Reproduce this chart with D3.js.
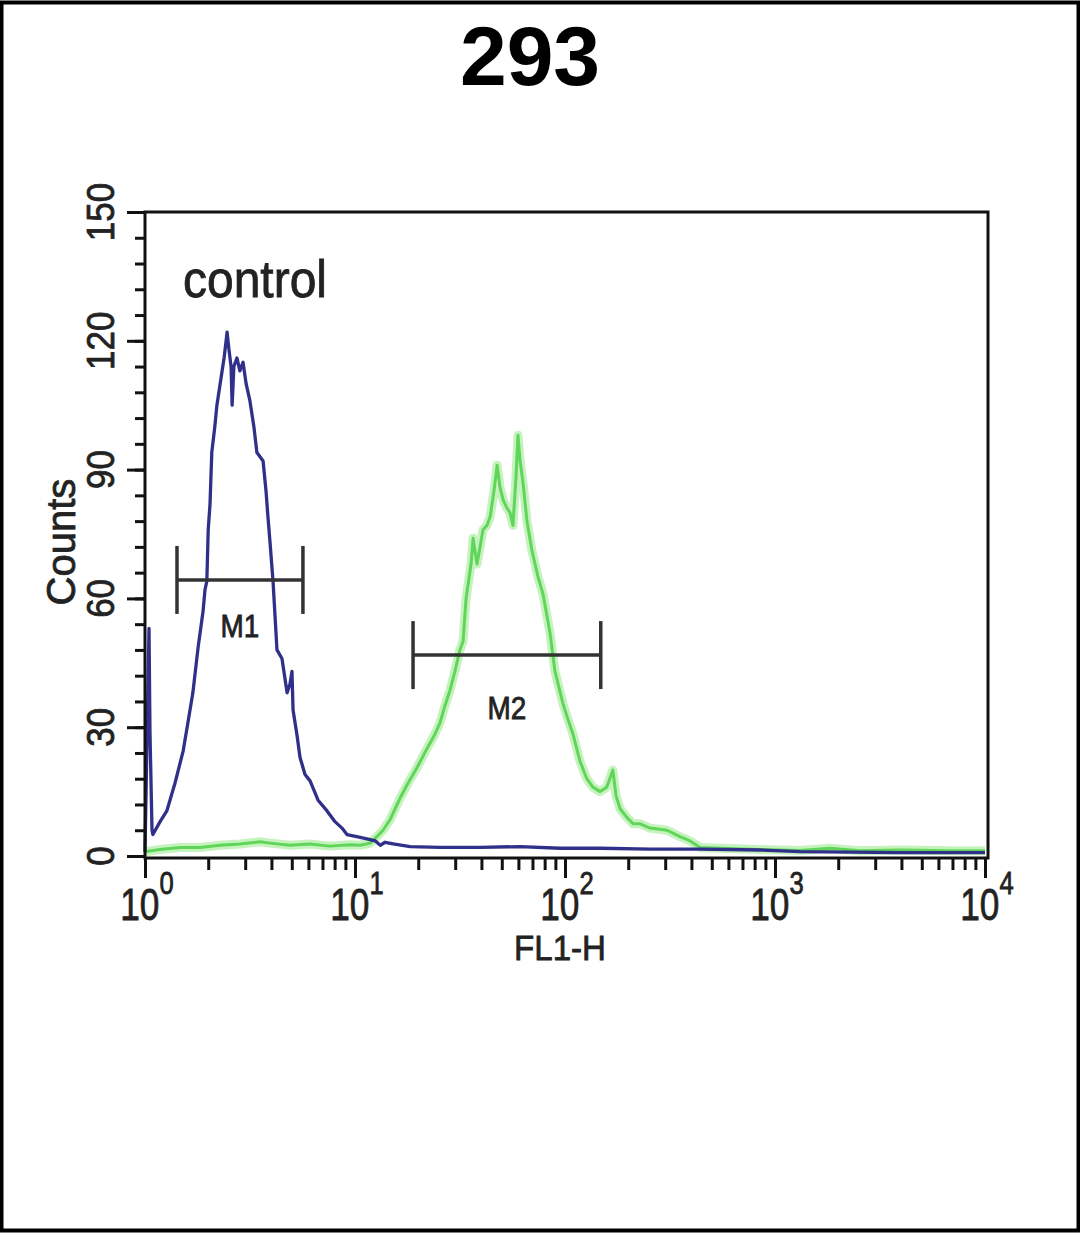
<!DOCTYPE html>
<meta charset="utf-8">
<script src="https://d3js.org/d3.v7.min.js"></script>
<style>
body { margin:0; background:#fff; }
.axis path { stroke:none; }
.axis line { stroke:#111; stroke-width:3px; }
.lab { font-family:"Liberation Sans",Arial,sans-serif; fill:#222; stroke:#222; stroke-width:0.8px; }
</style>
<body>
<script>

// control histogram (blue) : FL1-H value, counts
var blueX = [1.0, 1.045, 1.056, 1.08, 1.09, 1.18, 1.27, 1.39, 1.52, 1.60, 1.69, 1.79, 1.89, 1.93, 1.97, 2.00, 2.04, 2.08, 2.15, 2.20, 2.28, 2.38, 2.46, 2.51, 2.57, 2.60, 2.65, 2.74, 2.83, 2.93, 3.03, 3.16, 3.30, 3.41, 3.53, 3.65, 3.77, 3.85, 3.94, 4.07, 4.16, 4.25, 4.49, 4.75, 4.90, 5.01, 5.07, 5.30, 5.47, 5.78, 6.11, 6.67, 7.36, 8.03, 8.67, 9.16, 10.2, 11.4, 12.5, 13.2, 13.9, 15.2, 18.3, 25.4, 39.4, 61.1, 94.7, 147, 254, 440, 848, 1315, 3938, 10000]
var blueCount = [1, 53, 29, 6, 5, 8, 10.5, 17, 24.5, 31, 38, 48.6, 57, 62, 64, 76, 82, 94, 100, 105, 110, 116, 122, 118, 114, 105, 114, 116, 113, 115, 110, 106, 100, 94, 93, 92, 85, 79, 73, 64, 56, 48, 46, 38, 40, 43, 34, 28, 23, 19, 17.5, 13, 10.5, 8, 6.5, 5, 4.5, 4, 3.5, 2.5, 3.2, 2.8, 2.2, 2, 2, 2.2, 1.8, 1.8, 1.6, 1.6, 1.4, 1, 0.8, 0.8]

// stained sample histogram (green)
var greenX = [1.0, 1.18, 1.47, 1.83, 2.28, 2.83, 3.53, 3.94, 4.90, 6.11, 7.60, 9.47, 10.6, 11.8, 12.7, 13.6, 14.7, 16.4, 17.9, 19.7, 22.0, 23.8, 25.4, 26.8, 28.3, 29.9, 31.6, 32.7, 33.8, 34.5, 35.7, 36.5, 38.1, 39.4, 40.7, 42.5, 44.0, 45.9, 47.5, 49.0, 50.7, 52.9, 54.7, 56.5, 58.4, 59.7, 61.1, 63.1, 65.9, 69.7, 74.4, 78.6, 84.8, 89.6, 97.8, 103, 109, 118, 127, 136, 147, 158, 169, 175, 183, 197, 211, 228, 254, 306, 353, 394, 440, 547, 848, 1315, 1828, 2540, 3938, 6813, 10000]
var greenCount = [1, 1.5, 2, 2, 2.5, 2.8, 3.3, 3, 2.5, 2.8, 2.3, 2.6, 2.5, 3, 4.5, 6, 8.5, 13.5, 17, 20.5, 25, 28, 31, 35, 38.5, 43, 48, 50, 60, 63, 68, 74, 68, 72, 76, 77, 79, 85, 91, 86, 83, 81, 80, 77, 88, 98, 92, 87, 78, 71, 65, 61, 52, 43, 35.5, 32, 28.5, 22, 18, 16, 15, 16, 20, 14, 11, 9, 7.5, 7.5, 6.5, 6, 4.5, 3.5, 2, 1.8, 1.5, 1.3, 1.8, 1.2, 1.4, 1.2, 1.2]

var yMajor = [0, 30, 60, 90, 120, 150]
var yMinor = d3.range(0, 151, 6)
var xMajor = [1, 10, 100, 1000, 10000]
var xExp = ["0", "1", "2", "3", "4"]

var markerNames = ["M1", "M2"]
var markerLo = [1.42, 18.9]
var markerHi = [5.65, 148]
var markerLevel = [64.3, 46.8]

var W = 1080, H = 1233

var svg = d3.select("body").append("svg")
  .attr("width", W)
  .attr("height", H)

// outer frame of the picture
svg.append("rect")
  .attr("x", 1.5).attr("y", 2.5)
  .attr("width", W - 3).attr("height", H - 5)
  .attr("fill", "#fff")
  .attr("stroke", "#000")
  .attr("stroke-width", 4)

svg.append("text")
  .attr("x", 530).attr("y", 85)
  .attr("text-anchor", "middle")
  .style("font", "bold 84px 'Liberation Sans', Arial, sans-serif")
  .text("293")

var x = d3.scaleLog().domain([1, 10000]).range([145, 985])
var y = d3.scaleLinear().domain([0, 150]).range([856, 212])

// minor x ticks
var xMinor = []
xMajor.slice(0, 4).forEach(function(d) {
  d3.range(2, 10).forEach(function(k) { xMinor.push(d * k) })
})

svg.append("g").attr("class", "axis")
  .attr("transform", "translate(0,858)")
  .call(d3.axisBottom(x).tickValues(xMinor).tickSize(12).tickFormat(""))

svg.append("g").attr("class", "axis")
  .attr("transform", "translate(0,858)")
  .call(d3.axisBottom(x).tickValues(xMajor).tickSize(20).tickFormat(""))

svg.append("g").attr("class", "axis")
  .attr("transform", "translate(145,0)")
  .call(d3.axisLeft(y).tickValues(yMinor).tickSize(10).tickFormat(""))

svg.append("g").attr("class", "axis")
  .attr("transform", "translate(145,0)")
  .call(d3.axisLeft(y).tickValues(yMajor).tickSize(18).tickFormat(""))

// y tick labels, rotated
svg.selectAll(".ylab")
  .data(yMajor).enter().append("text")
  .attr("class", "lab")
  .attr("text-anchor", "middle")
  .attr("transform", function(d) { return "translate(114," + y(d) + ") rotate(-90) scale(0.92,1)" })
  .style("font-size", "38px")
  .text(function(d) { return d })

// x tick labels 10^n
var xl = svg.selectAll(".xlab")
  .data(xMajor).enter().append("text")
  .attr("class", "lab")
  .attr("text-anchor", "middle")
  .attr("transform", function(d) { return "translate(" + (x(d) + 2) + ",920) scale(0.8,1)" })
  .style("font-size", "44px")
xl.append("tspan").text("10")
xl.append("tspan")
  .attr("dy", -26)
  .style("font-size", "32px")
  .text(function(d, i) { return xExp[i] })

svg.append("text")
  .attr("class", "lab")
  .attr("text-anchor", "middle")
  .attr("transform", "translate(75,542) rotate(-90)")
  .style("font-size", "40px")
  .text("Counts")

svg.append("text")
  .attr("class", "lab")
  .attr("text-anchor", "middle")
  .attr("transform", "translate(560,960) scale(0.92,1)")
  .style("font-size", "36px")
  .text("FL1-H")

svg.append("text")
  .attr("class", "lab")
  .attr("x", 183).attr("y", 297)
  .attr("textLength", 144)
  .attr("lengthAdjust", "spacingAndGlyphs")
  .style("font-size", "52px")
  .text("control")

var line = d3.line()
  .x(function(d) { return x(d[0]) })
  .y(function(d) { return y(d[1]) })

var green = d3.zip(greenX, greenCount)
var blue = d3.zip(blueX, blueCount)

svg.append("path")
  .attr("d", line(green))
  .attr("fill", "none")
  .attr("stroke", "#c6f2bd")
  .attr("stroke-width", 9)
  .attr("stroke-linejoin", "round")

svg.append("path")
  .attr("d", line(green))
  .attr("fill", "none")
  .attr("stroke", "#5fd65a")
  .attr("stroke-width", 3)
  .attr("stroke-linejoin", "round")

svg.append("path")
  .attr("d", line(blue))
  .attr("fill", "none")
  .attr("stroke", "#30308a")
  .attr("stroke-width", 3.3)
  .attr("stroke-linejoin", "round")

// marker bars
var mk = svg.selectAll(".marker")
  .data(markerNames).enter().append("g")
  .attr("class", "marker")
mk.append("line")
  .attr("x1", function(d, i) { return x(markerLo[i]) })
  .attr("x2", function(d, i) { return x(markerHi[i]) })
  .attr("y1", function(d, i) { return y(markerLevel[i]) })
  .attr("y2", function(d, i) { return y(markerLevel[i]) })
mk.append("line")
  .attr("x1", function(d, i) { return x(markerLo[i]) })
  .attr("x2", function(d, i) { return x(markerLo[i]) })
  .attr("y1", function(d, i) { return y(markerLevel[i]) - 34 })
  .attr("y2", function(d, i) { return y(markerLevel[i]) + 34 })
mk.append("line")
  .attr("x1", function(d, i) { return x(markerHi[i]) })
  .attr("x2", function(d, i) { return x(markerHi[i]) })
  .attr("y1", function(d, i) { return y(markerLevel[i]) - 34 })
  .attr("y2", function(d, i) { return y(markerLevel[i]) + 34 })
mk.selectAll("line")
  .attr("stroke", "#333")
  .attr("stroke-width", 3.5)
mk.append("text")
  .attr("class", "lab")
  .attr("text-anchor", "middle")
  .attr("transform", function(d, i) {
    return "translate(" + x(Math.sqrt(markerLo[i] * markerHi[i])) + "," + (y(markerLevel[i]) + (i == 0 ? 57 : 64)) + ") scale(0.9,1)"
  })
  .style("font-size", "31px")
  .text(function(d) { return d })

// plot frame
svg.append("rect")
  .attr("x", 145).attr("y", 212)
  .attr("width", 843).attr("height", 646)
  .attr("fill", "none")
  .attr("stroke", "#111")
  .attr("stroke-width", 3)

</script>
</body>
